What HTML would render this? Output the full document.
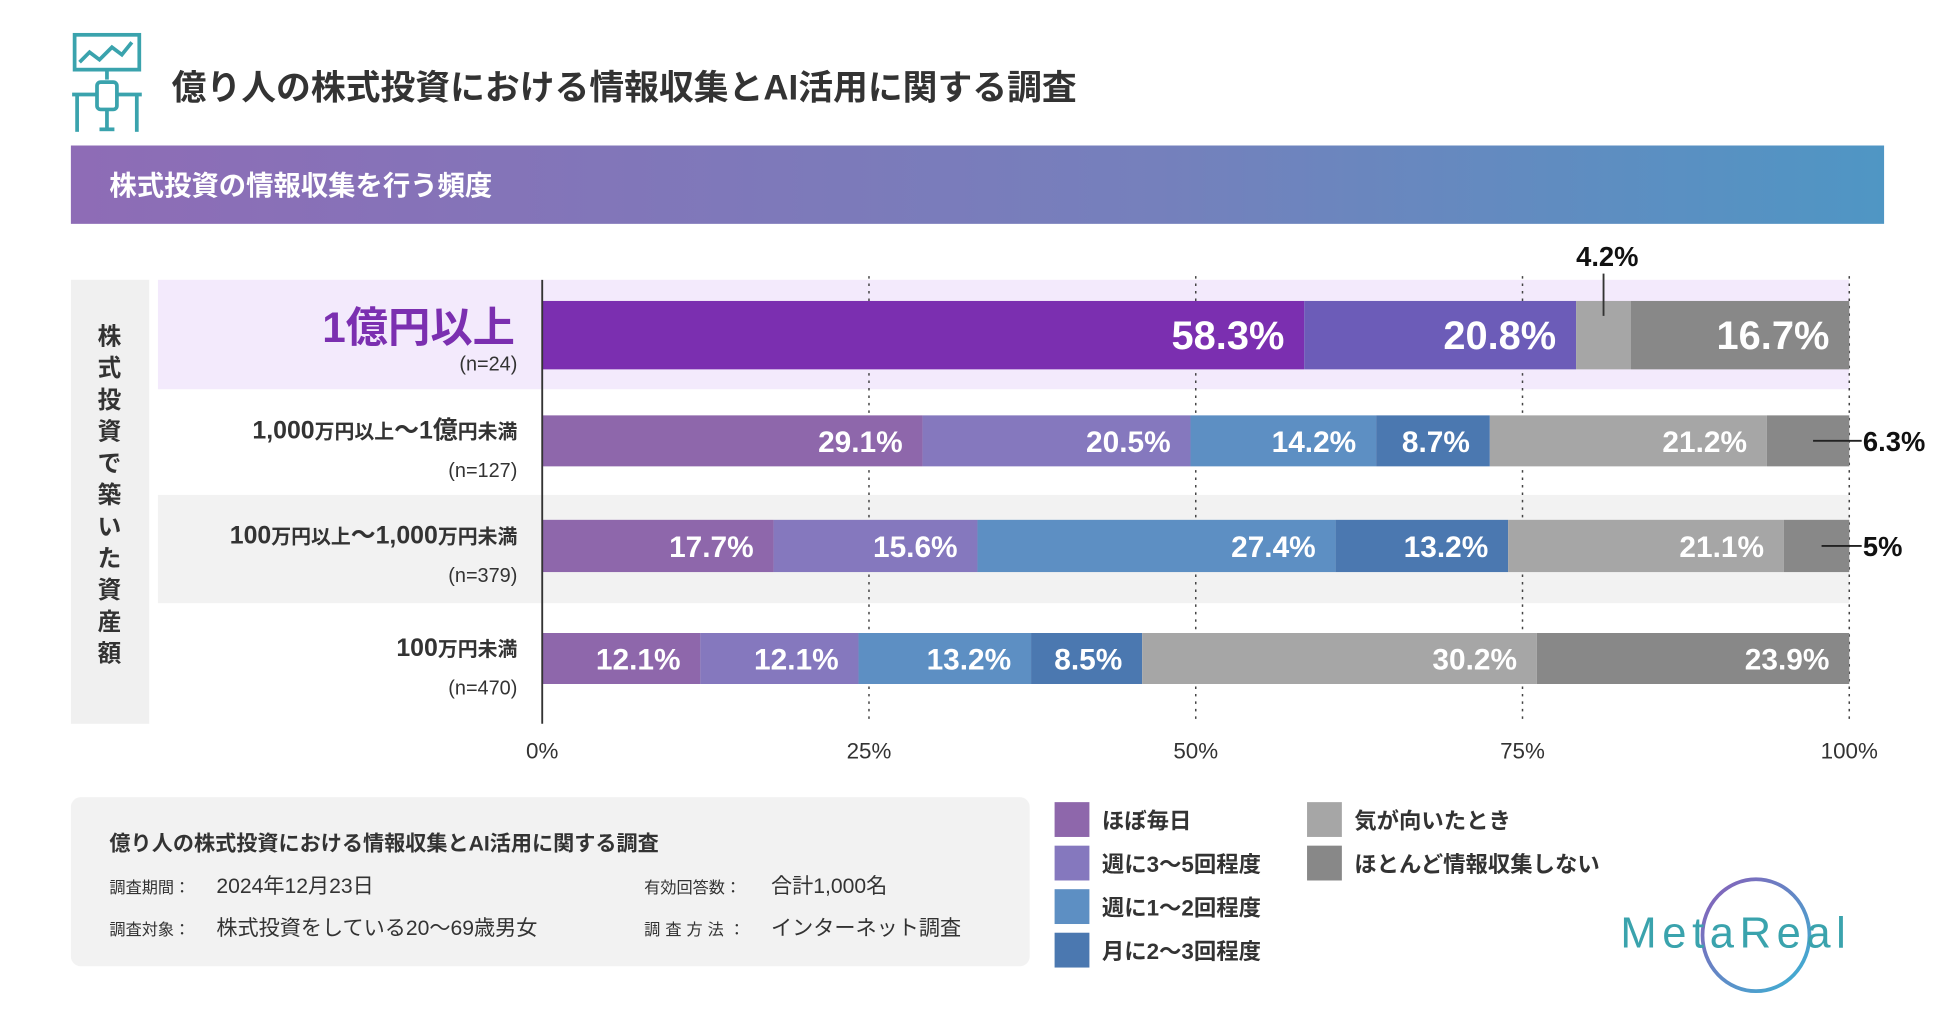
<!DOCTYPE html>
<html><head><meta charset="utf-8"><style>
html,body{margin:0;padding:0;background:#fff;}
svg{display:block;font-family:"Liberation Sans","Noto Sans CJK JP",sans-serif;}
</style></head><body>
<svg id="chart" width="1950" height="1024" viewBox="0 0 1568 823.4" preserveAspectRatio="none">
<defs>
<linearGradient id="hg" x1="0" x2="1"><stop offset="0" stop-color="#8e6cb6"/><stop offset="0.6" stop-color="#7580bc"/><stop offset="1" stop-color="#4f96c4"/></linearGradient>
<linearGradient id="lg" x1="0" y1="0" x2="1" y2="1"><stop offset="0" stop-color="#8a5cb8"/><stop offset="1" stop-color="#3ab4d4"/></linearGradient>
</defs>
<g fill="none" stroke="#3aa3ad" stroke-width="3">
<rect x="60" y="28" width="52" height="28"/><polyline points="64,50 72,42 80,48 90,38 98,44 106,34"/>
<line x1="86" y1="56" x2="86" y2="64"/><rect x="78" y="66" width="16" height="22" rx="3"/>
<line x1="58" y1="76" x2="78" y2="76"/><line x1="94" y1="76" x2="114" y2="76"/>
<line x1="62" y1="76" x2="62" y2="106"/><line x1="110" y1="76" x2="110" y2="106"/>
<line x1="86" y1="88" x2="86" y2="104"/><line x1="80" y1="104" x2="92" y2="104"/>
</g>
<text x="138" y="80" font-size="28" font-weight="bold" fill="#333">億り人の株式投資における情報収集とAI活用に関する調査</text>
<rect x="57" y="117" width="1458" height="63" fill="url(#hg)"/>
<text x="88" y="157" font-size="22" font-weight="bold" fill="#fff">株式投資の情報収集を行う頻度</text>
<rect x="57" y="225" width="63" height="357" fill="#f0f0f0"/>
<g id="ytitle" font-size="19" font-weight="bold" fill="#333" text-anchor="middle"></g>
<rect x="127" y="225" width="1360" height="88" fill="#f3eafc"/>
<rect x="127" y="398" width="1360" height="87" fill="#f2f2f2"/>
<g id="grid"></g><g id="bars"></g><g id="labels"></g>
<line x1="436" y1="225" x2="436" y2="582" stroke="#333" stroke-width="1.5"/>
<rect x="57" y="641" width="771" height="136" rx="8" fill="#f2f2f2"/>
<g fill="#333">
<text x="88" y="684" font-size="17" font-weight="bold">億り人の株式投資における情報収集とAI活用に関する調査</text>
<text x="88" y="718" font-size="13">調査期間：</text><text x="174" y="718" font-size="17">2024年12月23日</text>
<text x="88" y="752" font-size="13">調査対象：</text><text x="174" y="752" font-size="17">株式投資をしている20〜69歳男女</text>
<text x="518" y="718" font-size="13">有効回答数：</text><text x="620" y="718" font-size="17">合計1,000名</text>
<text x="518" y="752" font-size="13" letter-spacing="4">調査方法：</text><text x="620" y="752" font-size="17">インターネット調査</text>
</g>
<g id="legend"></g>
<g>
<ellipse cx="1412" cy="752" rx="43" ry="45" fill="none" stroke="url(#lg)" stroke-width="3"/>
<text x="1303" y="762" font-size="35" fill="#3aa3ad" letter-spacing="4.5">MetaReal</text>
</g>
</svg>
<script>
const categories=["1億円以上","1,000万円以上～1億円未満","100万円以上～1,000万円未満","100万円未満"];
const sampleSizes=["(n=24)","(n=127)","(n=379)","(n=470)"];
const seriesNames=["ほぼ毎日","週に3〜5回程度","週に1〜2回程度","月に2〜3回程度","気が向いたとき","ほとんど情報収集しない"];
const sDaily=[58.3,29.1,17.7,12.1];
const sWeek35=[20.8,20.5,15.6,12.1];
const sWeek12=[0,14.2,27.4,13.2];
const sMonth=[0,8.7,13.2,8.5];
const sMood=[4.2,21.2,21.1,30.2];
const sNone=[16.7,6.3,5.0,23.9];
const ticks=[0,25,50,75,100];
const NS="http://www.w3.org/2000/svg";
const colors=["#8e67ab","#8578be","#5d8fc3","#4b78b0","#a6a6a6","#888888"];
const colorsTop=["#7b2fb0","#6c5cb8","#5d8fc3","#4b78b0","#a6a6a6","#888888"];
const series=[sDaily,sWeek35,sWeek12,sMonth,sMood,sNone];
const rowTop=[242,334,418,509], rowH=[55,41,42,41];
const X=v=>436+v*(1487-436)/100;
function mk(tag,attrs,parent,txt){const e=document.createElementNS(NS,tag);for(const k in attrs)e.setAttribute(k,attrs[k]);if(txt!==undefined)e.textContent=txt;parent.appendChild(e);return e;}
const grid=document.getElementById('grid'),bars=document.getElementById('bars'),labels=document.getElementById('labels');
ticks.forEach(t=>{
  if(t>0){const l=mk('line',{x1:X(t),x2:X(t),y1:222,y2:582,stroke:'#444','stroke-dasharray':'2,4','stroke-width':1.2},grid);
  
  }
  const tx=mk('text',{x:X(t),y:610,'font-size':18,'text-anchor':'middle',fill:'#333'},grid,t+'%');
  
  
});
const yt=document.getElementById('ytitle');
"株式投資で築いた資産額".split('').forEach((c,i)=>{mk('text',{x:88,y:277+i*25.5},yt,c);});
categories.forEach((cat,r)=>{
  let acc=0;const y=rowTop[r],h=rowH[r];
  series.forEach((s,k)=>{
    const v=s[r];if(v<=0)return;
    const rect=mk('rect',{x:X(acc),y:y,width:X(acc+v)-X(acc),height:h,fill:(r===0?colorsTop:colors)[k]},bars);
    
    
    const end=X(acc+v);
    const lbl=(v%1===0?v.toFixed(0):v.toFixed(1))+'%';
    if(v>=7){
      const t=mk('text',{x:end-16,y:y+h/2+(r===0?11:9),'font-size':r===0?32:24,'font-weight':'bold',fill:'#fff','text-anchor':'end'},labels,lbl);
      
      
    }else if(r===0){
      const cx=(X(acc)+end)/2;
      mk('line',{x1:cx,x2:cx,y1:220,y2:y+12,stroke:'#333','stroke-width':1.5},labels);
      const t=mk('text',{x:cx+3,y:214,'font-size':22,'font-weight':'bold',fill:'#111','text-anchor':'middle'},labels,lbl);
      
      
    }else{
      mk('line',{x1:(X(acc)+end)/2+4,x2:1497,y1:y+h/2,y2:y+h/2,stroke:'#222','stroke-width':1.5},labels);
      const t=mk('text',{x:1498,y:y+h/2+8,'font-size':22,'font-weight':'bold',fill:'#111'},labels,lbl);
      
      
    }
    acc+=v;
  });
  const cy=y+h/2;
  let t;
  if(r===0){
    t=mk('text',{x:414,y:275,'font-size':34,'font-weight':'bold',fill:'#7b2fb0','text-anchor':'end'},labels,cat);
  }else{
    t=mk('text',{x:416,y:cy-2,'font-size':20,'font-weight':'bold',fill:'#333','text-anchor':'end'},labels);
    cat.split(/(万円以上|万円未満|円未満)/).forEach(p=>{if(!p)return;const small=/万円|円未満/.test(p);mk('tspan',{'font-size':small?16:20},t,p);});
  }
  
  
  const n=mk('text',{x:416,y:r===0?298:cy+29,'font-size':16,fill:'#333','text-anchor':'end'},labels,sampleSizes[r]);
  
  
});
const lg=document.getElementById('legend');
seriesNames.forEach((nm,i)=>{
  const col=i<4?0:1,row=i<4?i:i-4;
  const x=col?1051:848,y=645+row*35;
  const g=mk('g',{},lg);
  
  
  mk('rect',{x:x,y:y,width:28,height:28,fill:colors[i]},g);
  mk('text',{x:x+38,y:y+21,'font-size':18,'font-weight':'bold',fill:'#333'},g,nm);
});
</script>
</body></html>
